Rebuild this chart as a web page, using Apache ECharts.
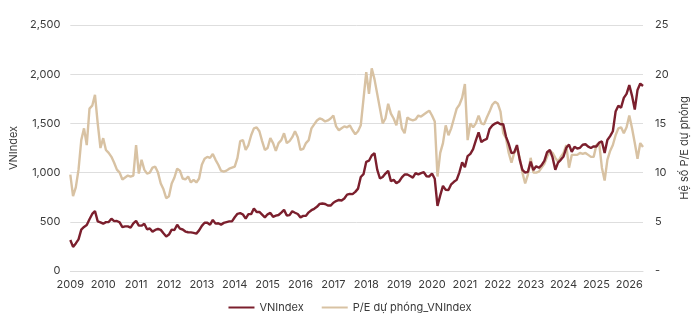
<!DOCTYPE html>
<html>
<head>
<meta charset="utf-8">
<script src="https://cdn.jsdelivr.net/npm/echarts@6/dist/echarts.min.js"></script>
<style>
html,body{margin:0;padding:0;background:#fff;}
#chart{width:700px;height:332px;}
</style>
</head>
<body>
<div id="chart"></div>
<script>
// Tick labels (years) on the x axis
const years = [2009,2010,2011,2012,2013,2014,2015,2016,2017,2018,2019,2020,2021,2022,2023,2024,2025,2026];
const lastMonth2026 = 6;

// VNIndex, monthly, Jan 2009 .. Jun 2026
const vnIndex = [
  315, 245, 280, 321, 421, 448, 467, 526, 580, 610, 504, 494,
  481, 497, 498, 531, 507, 508, 494, 445, 454, 453, 440, 484,
  509, 461, 461, 480, 424, 432, 400, 417, 427, 418, 384, 351,
  370, 421, 416, 470, 430, 422, 401, 394, 392, 388, 380, 413,
  459, 490, 491, 471, 520, 481, 485, 471, 489, 497, 504, 505,
  546, 581, 588, 574, 533, 578, 578, 636, 599, 601, 573, 545,
  576, 590, 551, 562, 569, 593, 621, 563, 568, 607, 592, 579,
  545, 560, 561, 596, 618, 632, 652, 682, 686, 681, 666, 665,
  694, 711, 722, 717, 737, 776, 783, 781, 804, 837, 955, 984,
  1110, 1121, 1174, 1196, 1030, 940, 955, 990, 1017, 914, 926, 893,
  910, 951, 981, 980, 965, 949, 994, 982, 995, 1004, 963, 961,
  991, 937, 662, 768, 865, 825, 823, 881, 906, 926, 1003, 1104,
  1056, 1168, 1191, 1239, 1328, 1408, 1310, 1331, 1342, 1444, 1478, 1498,
  1510, 1492, 1492, 1366, 1292, 1197, 1206, 1280, 1132, 1027, 1000, 1007,
  1111, 1025, 1064, 1049, 1075, 1120, 1207, 1230, 1154, 1028, 1102, 1130,
  1164, 1252, 1284, 1210, 1262, 1245, 1252, 1283, 1288, 1264, 1250, 1267,
  1265, 1305, 1317, 1200, 1332, 1371, 1420, 1620, 1680, 1660, 1760, 1800,
  1890, 1780, 1640, 1840, 1905, 1880
];

// Forward P/E of VNIndex, monthly, Jan 2009 .. Jun 2026
const peForward = [
  9.8, 7.6, 8.5, 10.3, 13.3, 14.5, 12.8, 16.5, 16.8, 17.9, 15.0, 12.5,
  13.5, 12.3, 12.0, 11.6, 11.0, 10.3, 10.0, 9.3, 9.5, 9.7, 9.6, 9.7,
  12.8, 9.9, 11.3, 10.3, 9.9, 10.0, 10.5, 10.6, 10.0, 8.9, 8.3, 7.4,
  7.6, 8.9, 9.5, 10.4, 10.2, 9.4, 9.3, 9.6, 9.0, 9.25, 9.0, 9.4,
  10.8, 11.4, 11.6, 11.5, 11.9, 11.3, 10.8, 10.2, 10.1, 10.2, 10.4, 10.5,
  10.6, 11.5, 13.2, 13.3, 12.3, 12.8, 13.8, 14.5, 14.6, 14.2, 13.2, 12.3,
  12.5, 13.5, 13.0, 12.2, 13.0, 13.3, 14.0, 13.0, 13.2, 13.6, 14.2, 13.6,
  12.3, 12.4, 13.0, 13.3, 14.5, 14.9, 15.3, 15.5, 15.4, 15.2, 15.3, 15.5,
  15.8, 14.7, 14.3, 14.5, 14.7, 14.6, 14.8, 14.3, 13.9, 14.2, 14.8, 17.5,
  20.2, 18.0, 20.6, 19.5, 18.0, 16.5, 15.0, 15.5, 17.0, 16.0, 15.5, 14.8,
  16.3, 14.5, 14.0, 15.6, 15.4, 15.3, 15.4, 15.8, 15.7, 15.9, 16.1, 16.3,
  15.8, 15.2, 9.6, 12.0, 13.0, 14.8, 13.8, 14.5, 15.5, 16.5, 16.9, 17.6,
  19.0, 13.3, 15.0, 14.6, 15.0, 15.8, 15.0, 14.9, 15.6, 16.2, 16.9, 17.2,
  17.0, 16.2, 14.0, 13.5, 12.0, 11.0, 12.0, 12.5, 11.5, 10.0, 8.9, 9.8,
  11.5, 10.0, 10.0, 10.1, 10.5, 10.9, 11.6, 12.2, 12.0, 11.5, 11.1, 11.6,
  12.0, 12.8, 10.5, 11.8, 11.8, 11.8, 12.0, 11.9, 12.0, 11.8, 11.6, 11.6,
  12.8, 13.0, 10.5, 9.2, 11.3, 12.2, 12.8, 13.8, 14.5, 14.6, 14.0, 14.6,
  15.8, 14.5, 13.0, 11.4, 13.0, 12.6
];

// Build the monthly category list from the year tick labels
const months = [];
years.forEach(y => {
  const n = (y === years[years.length - 1]) ? lastMonth2026 : 12;
  for (let m = 1; m <= n; m++) months.push(y + '-' + (m < 10 ? '0' + m : m));
});

const FONT = 'Inter, "Noto Sans", sans-serif';
const TXT = '#3a3a3a';
const chart = echarts.init(document.getElementById('chart'), null, {renderer: 'canvas'});
chart.setOption({
  animation: false,
  backgroundColor: '#ffffff',
  textStyle: {fontFamily: FONT},
  grid: {left: 67, right: 57, top: 25, bottom: 61, containLabel: false},
  legend: {
    bottom: 14,
    left: 'center',
    icon: 'rect',
    itemWidth: 26,
    itemHeight: 2,
    itemGap: 18,
    textStyle: {fontFamily: FONT, fontSize: 11, color: TXT},
    data: ['VNIndex', 'P/E dự phóng_VNIndex']
  },
  xAxis: {
    type: 'category',
    data: months,
    boundaryGap: false,
    axisLine: {lineStyle: {color: '#dcdcdc'}},
    axisTick: {show: false},
    axisLabel: {
      interval: (i, v) => v.slice(5) === '01',
      formatter: v => v.slice(0, 4),
      fontFamily: FONT, fontSize: 11, color: TXT, margin: 8
    },
    splitLine: {show: false}
  },
  yAxis: [
    {
      type: 'value',
      min: 0, max: 2500, interval: 500,
      name: 'VNIndex',
      nameLocation: 'middle',
      nameGap: 40,
      nameTextStyle: {fontFamily: FONT, fontSize: 11, color: TXT},
      axisLine: {show: false},
      axisTick: {show: false},
      axisLabel: {
        formatter: v => v.toLocaleString('en-US'),
        fontFamily: FONT, fontSize: 11, color: TXT, margin: 10
      },
      splitLine: {lineStyle: {color: '#dedede', width: 1}}
    },
    {
      type: 'value',
      min: 0, max: 25, interval: 5,
      name: 'Hệ số P/E dự phóng',
      nameLocation: 'middle',
      nameGap: 30,
      nameRotate: 90,
      nameTextStyle: {fontFamily: FONT, fontSize: 11, color: TXT},
      axisLine: {show: false},
      axisTick: {show: false},
      axisLabel: {
        formatter: v => v === 0 ? '-' : String(v),
        fontFamily: FONT, fontSize: 11, color: TXT, margin: 12
      },
      splitLine: {show: false}
    }
  ],
  series: [
    {
      name: 'VNIndex',
      type: 'line',
      yAxisIndex: 0,
      data: vnIndex,
      showSymbol: false,
      symbol: 'none',
      z: 3,
      color: '#7b1f2d',
      lineStyle: {color: '#7b1f2d', width: 2.4}
    },
    {
      name: 'P/E dự phóng_VNIndex',
      type: 'line',
      yAxisIndex: 1,
      data: peForward,
      showSymbol: false,
      symbol: 'none',
      z: 2,
      color: '#d8c2a3',
      lineStyle: {color: '#d8c2a3', width: 2.4}
    }
  ]
});
</script>
</body>
</html>
